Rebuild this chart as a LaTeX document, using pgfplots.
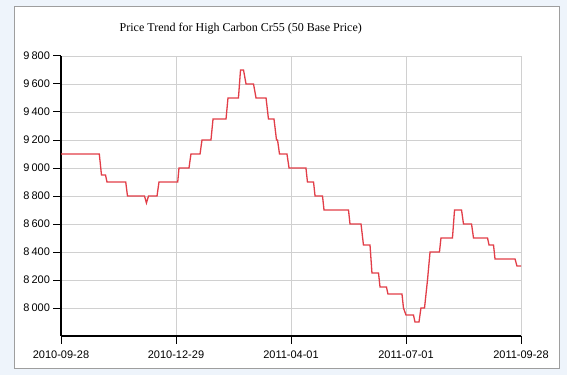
\documentclass[border=0pt]{standalone}
\usepackage{pgfplots}
\pgfplotsset{compat=1.18}
\usepackage{fontspec}
\setmainfont{Liberation Serif}
\newfontfamily\arialfont{Liberation Sans}
\definecolor{bgblue}{RGB}{238,244,251}
\definecolor{framegray}{RGB}{158,158,158}
\definecolor{gridgray}{RGB}{208,208,208}
\definecolor{linered}{RGB}{226,62,72}
\begin{document}
\begin{tikzpicture}
\fill[bgblue] (0pt,0pt) rectangle (567pt,375pt);
\draw[framegray, line width=1.3pt, fill=white] (14.8pt,6.8pt) rectangle (559.2pt,368.8pt);
\node[font=\fontsize{12}{14}\selectfont, anchor=base, inner sep=0pt] at (240.8pt,343pt) {Price Trend for High Carbon Cr55 (50 Base Price)};
\begin{axis}[
  at={(61pt,39pt)}, anchor=south west,
  scale only axis, width=460pt, height=280pt,
  xmin=0, xmax=4, ymin=7800, ymax=9800,
  axis x line=bottom, axis y line=left,
  axis line style={-, line width=2.6pt, black},
  x axis line style={-}, y axis line style={-},
  tick align=outside,
  major tick length=7.5pt,
  tick style={black, line width=1pt},
  xtick={0,1,2,3,4},
  xticklabels={2010-09-28,2010-12-29,2011-04-01,2011-07-01,2011-09-28},
  xticklabel style={yshift=-4pt},
  ytick={8000,8200,...,9800},
  grid=major,
  major grid style={gridgray, line width=0.9pt},
  /pgf/number format/assume math mode=true,
  /pgf/number format/1000 sep={\hspace{2pt}},
  tick label style={font=\arialfont\fontsize{11}{13}\selectfont},
  clip=false,
]
\addplot[linered, line width=1.3pt] table {
x y
0.000 9100
0.333 9100
0.352 8950
0.387 8950
0.400 8900
0.563 8900
0.578 8800
0.726 8800
0.743 8750
0.761 8800
0.835 8800
0.852 8900
1.015 8900
1.026 9000
1.113 9000
1.130 9100
1.209 9100
1.226 9200
1.304 9200
1.322 9350
1.435 9350
1.452 9500
1.543 9500
1.561 9700
1.587 9700
1.609 9600
1.674 9600
1.696 9500
1.783 9500
1.804 9350
1.852 9350
1.874 9200
1.883 9200
1.900 9100
1.965 9100
1.983 9000
2.130 9000
2.143 8900
2.196 8900
2.209 8800
2.274 8800
2.287 8700
2.500 8700
2.513 8600
2.609 8600
2.630 8450
2.687 8450
2.704 8250
2.761 8250
2.774 8150
2.830 8150
2.843 8100
2.965 8100
2.978 8000
3.000 7950
3.065 7950
3.078 7900
3.113 7900
3.130 8000
3.161 8000
3.187 8200
3.209 8400
3.291 8400
3.304 8500
3.404 8500
3.422 8700
3.483 8700
3.500 8600
3.570 8600
3.587 8500
3.709 8500
3.722 8450
3.761 8450
3.774 8350
3.948 8350
3.965 8300
4.000 8300
};
\end{axis}
\end{tikzpicture}
\end{document}
